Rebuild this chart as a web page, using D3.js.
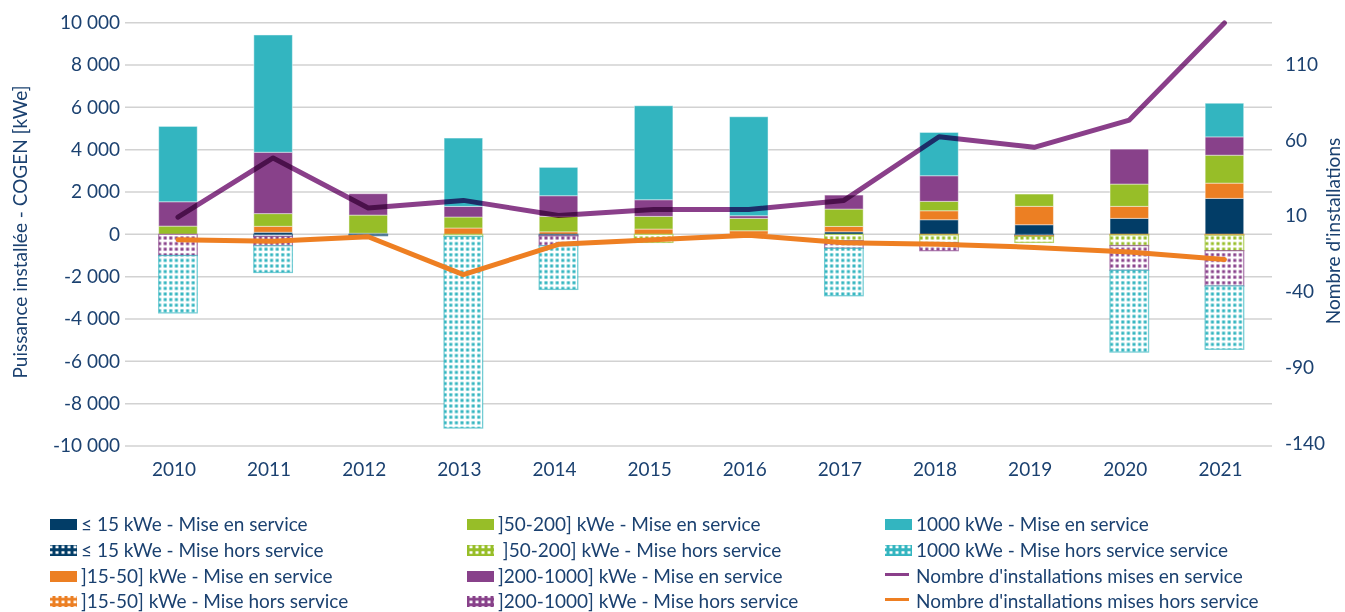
<!DOCTYPE html>
<html><head><meta charset="utf-8">
<script src="https://cdn.jsdelivr.net/npm/d3@7"></script>
<style>
body{margin:0;background:#fff}
text{font-family:Lato,'Open Sans',sans-serif;fill:#1b4170}
</style>
</head><body><svg id="c" width="1345" height="612"></svg>
<script>
const years = [2010,2011,2012,2013,2014,2015,2016,2017,2018,2019,2020,2021];
// Mise en service (kWe)
const on15      = [0, 100, 50, 0, 0, 0, 0, 120, 690, 454, 756, 1700];
const on15_50   = [0, 280, 0, 300, 120, 250, 170, 255, 425, 870, 567, 720];
const on50_200  = [390, 600, 860, 520, 730, 600, 586, 820, 444, 580, 1053, 1320];
const on200_1000= [1150, 2900, 1010, 500, 975, 785, 124, 660, 1210, 0, 1650, 865];
const on1000    = [3560, 5540, 0, 3230, 1340, 4440, 4676, 0, 2046, 0, 0, 1590];
// Mise hors service (kWe, drawn below zero)
const off15      = [0, 100, 60, 0, 70, 0, 0, 0, 0, 60, 0, 0];
const off15_50   = [0, 0, 0, 0, 0, 0, 0, 0, 30, 40, 30, 40];
const off50_200  = [0, 0, 0, 100, 0, 380, 0, 300, 360, 280, 500, 730];
const off200_1000= [1000, 440, 0, 0, 470, 0, 0, 360, 380, 0, 1170, 1670];
const off1000    = [2710, 1260, 0, 9050, 2060, 0, 0, 2240, 0, 0, 3860, 2990];
// Nombre d'installations
const nbOn  = [10, 49, 16, 21, 11, 15, 15, 21, 63, 56, 74, 138];
const nbOff = [-5, -6, -3, -28, -8, -5, -2, -7, -8, -10, -13, -18];
const leftTicks = [-10000,-8000,-6000,-4000,-2000,0,2000,4000,6000,8000,10000];
const rightTicks = [-140,-90,-40,10,60,110];

const C = {navy:"#023d67", orange:"#ec7f23", green:"#97be28", purple:"#88418a", teal:"#33b5c0"};
const onSeries = [
  {vals:on15, color:C.navy, label:"≤ 15 kWe - Mise en service"},
  {vals:on15_50, color:C.orange, label:"]15-50] kWe - Mise en service"},
  {vals:on50_200, color:C.green, label:"]50-200] kWe - Mise en service"},
  {vals:on200_1000, color:C.purple, label:"]200-1000] kWe - Mise en service"},
  {vals:on1000, color:C.teal, label:"1000 kWe - Mise en service"}];
const offSeries = [
  {vals:off15, color:C.navy, label:"≤ 15 kWe - Mise hors service", id:"p0"},
  {vals:off15_50, color:C.orange, label:"]15-50] kWe - Mise hors service", id:"p1"},
  {vals:off50_200, color:C.green, label:"\u00a0]50-200] kWe - Mise hors service", id:"p2"},
  {vals:off200_1000, color:C.purple, label:"]200-1000] kWe - Mise hors service", id:"p3"},
  {vals:off1000, color:C.teal, label:"1000 kWe - Mise hors service service", id:"p4"}];

const svg = d3.select("#c");
svg.append("rect").attr("width",1345).attr("height",612).attr("fill","#fff");
const defs = svg.append("defs");
offSeries.forEach(s=>{
  const p = defs.append("pattern").attr("id",s.id).attr("patternUnits","userSpaceOnUse")
    .attr("width",5.6).attr("height",5.6);
  p.append("rect").attr("width",5.6).attr("height",5.6).attr("fill","#fff");
  p.append("rect").attr("x",1.3).attr("y",1.3).attr("width",3).attr("height",3).attr("fill",s.color);
  const q = defs.append("pattern").attr("id",s.id+"L").attr("patternUnits","userSpaceOnUse")
    .attr("width",6).attr("height",5.5);
  q.append("rect").attr("width",6).attr("height",5.5).attr("fill",s.color);
  q.append("rect").attr("x",1.5).attr("y",1.2).attr("width",3).attr("height",2.6).attr("fill","#fff");
});

const x = d3.scaleBand().domain(years).range([130.4,1272]).paddingInner(0.595).paddingOuter(0.2975);
const yL = d3.scaleLinear().domain([-10000,10000]).range([446,22.7]);
const yR = d3.scaleLinear().domain([-141,138.2]).range([446,22.7]);
const bw = x.bandwidth();

// gridlines
svg.append("g").selectAll("line").data(leftTicks).join("line")
  .attr("x1",125).attr("x2",1272).attr("y1",d=>yL(d)).attr("y2",d=>yL(d))
  .attr("stroke","#d2d2d2").attr("stroke-width",1.5);

// stacked bars
const gOn = svg.append("g");
years.forEach((yr,i)=>{
  let base = 0;
  onSeries.forEach(s=>{
    const v = s.vals[i];
    if(v>0){
      gOn.append("rect").attr("x",x(yr)).attr("width",bw)
        .attr("y",yL(base+v)).attr("height",yL(base)-yL(base+v))
        .attr("fill",s.color).attr("stroke","#fff").attr("stroke-opacity",0.45).attr("stroke-width",1);
    }
    base += v;
  });
  let nb = 0;
  offSeries.forEach(s=>{
    const v = s.vals[i];
    if(v>0){
      gOn.append("rect").attr("x",x(yr)).attr("width",bw)
        .attr("y",yL(nb)).attr("height",yL(nb-v)-yL(nb))
        .attr("fill",`url(#${s.id})`).attr("stroke",s.color).attr("stroke-opacity",0.65).attr("stroke-width",1.3);
    }
    nb -= v;
  });
});

// lines
const line = d3.line().x((d,i)=>x(years[i])+bw/2).y(d=>yR(d));
svg.append("path").datum(nbOn).attr("d",line).attr("fill","none").attr("stroke","#8a3f8a")
  .attr("stroke-width",5).attr("stroke-linejoin","round").attr("stroke-linecap","round")
  .style("mix-blend-mode","multiply");
svg.append("path").datum(nbOff).attr("d",line).attr("fill","none").attr("stroke","#ee7f22")
  .attr("stroke-width",5).attr("stroke-linejoin","round").attr("stroke-linecap","round");

// axes
const fmt = d=> (d<0?"-":"") + d3.format(",")(Math.abs(d)).replace(/,/g," ");
const fmtR = d=> (d<0?"-":"") + Math.abs(d);
const aL = svg.append("g").attr("transform","translate(125,0)")
  .call(d3.axisLeft(yL).tickValues(leftTicks).tickFormat(fmt).tickSize(0).tickPadding(5));
const aR = svg.append("g").attr("transform","translate(1272,0)")
  .call(d3.axisRight(yR).tickValues(rightTicks).tickFormat(fmtR).tickSize(0).tickPadding(13));
const aX = svg.append("g").attr("transform","translate(0,446)")
  .call(d3.axisBottom(x).tickSize(0).tickPadding(17));
[aL,aR,aX].forEach(a=>{a.select(".domain").remove();
  a.selectAll("text").style("font-family","Lato,'Open Sans',sans-serif").style("font-size","19px").attr("fill","#1b4170");});
aR.selectAll("text").attr("dy","0.25em");
aL.selectAll("text").attr("dy","0.3em");
aX.selectAll("text").attr("dx",-4);

svg.append("text").attr("transform","translate(27,232) rotate(-90)").attr("text-anchor","middle")
  .style("font-size","19px").text("Puissance installée - COGEN [kWe]");
svg.append("text").attr("transform","translate(1340,231) rotate(-90)").attr("text-anchor","middle")
  .style("font-size","19px").text("Nombre d'installations");

// legend
const legendItems = [
  {type:"rect",fill:C.navy,label:onSeries[0].label},
  {type:"rect",fill:"url(#p0L)",label:offSeries[0].label},
  {type:"rect",fill:C.orange,label:onSeries[1].label},
  {type:"rect",fill:"url(#p1L)",label:offSeries[1].label},
  {type:"rect",fill:C.green,label:onSeries[2].label},
  {type:"rect",fill:"url(#p2L)",label:offSeries[2].label},
  {type:"rect",fill:C.purple,label:onSeries[3].label},
  {type:"rect",fill:"url(#p3L)",label:offSeries[3].label},
  {type:"rect",fill:C.teal,label:onSeries[4].label},
  {type:"rect",fill:"url(#p4L)",label:offSeries[4].label},
  {type:"line",fill:"#8a3f8a",label:"Nombre d'installations mises en service"},
  {type:"line",fill:"#ee7f22",label:"Nombre d'installations mises hors service"}];
const colX = [50, 467, 885];
const rowY = [524.5, 550.5, 576.5, 601.5];
const lg = svg.append("g");
legendItems.forEach((it,k)=>{
  const c = Math.floor(k/4), r = k%4;
  const gx = colX[c], gy = rowY[r];
  if(it.type==="rect"){
    lg.append("rect").attr("x",gx).attr("y",gy-5.5).attr("width",27).attr("height",11).attr("fill",it.fill);
  } else {
    lg.append("line").attr("x1",gx).attr("x2",gx+24).attr("y1",gy-2).attr("y2",gy-2)
      .attr("stroke",it.fill).attr("stroke-width",3);
  }
  lg.append("text").attr("x",gx+31).attr("y",gy).attr("dy","0.33em")
    .style("font-size","19px").text(it.label);
});
</script>
</body></html>
